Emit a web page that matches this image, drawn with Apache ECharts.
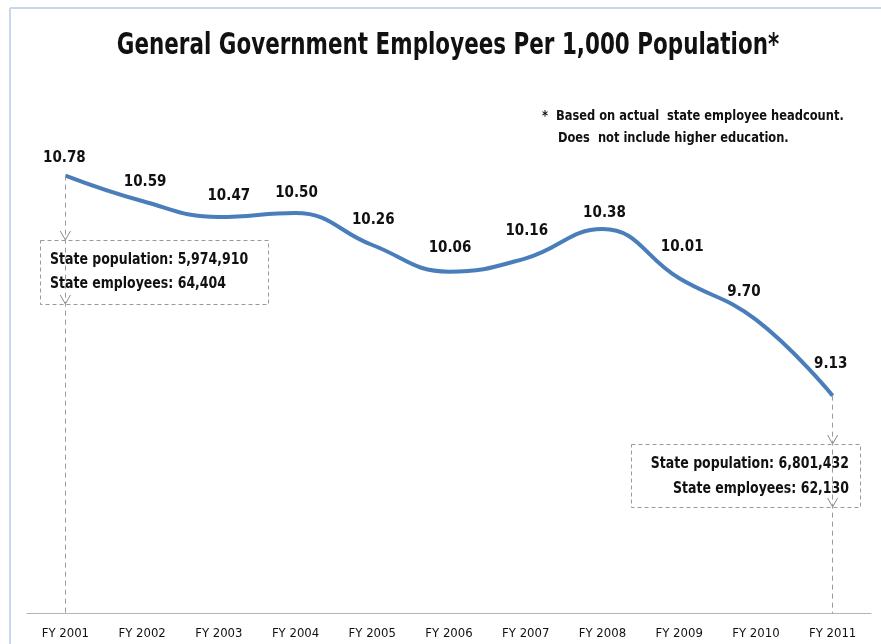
<!DOCTYPE html>
<html>
<head>
<meta charset="utf-8">
<script src="https://cdn.jsdelivr.net/npm/echarts@6/dist/echarts.min.js"></script>
<style>
  html, body { margin: 0; padding: 0; background: #fff; }
  #chart { width: 881px; height: 644px; }
</style>
</head>
<body>
<div id="chart"></div>
<script>
// Fiscal years shown on the category axis
const years = ['FY 2001', 'FY 2002', 'FY 2003', 'FY 2004', 'FY 2005', 'FY 2006',
               'FY 2007', 'FY 2008', 'FY 2009', 'FY 2010', 'FY 2011'];
// Employees per 1,000 population
const perThousand = [10.78, 10.59, 10.47, 10.50, 10.26, 10.06, 10.16, 10.38, 10.01, 9.70, 9.13];
// Value range of the (hidden) y axis
const yRange = [7.5, 12];
// Callout text for the first and last year
const firstYearNote = ['State population: 5,974,910', 'State employees: 64,404'];
const lastYearNote = ['State population: 6,801,432', 'State employees: 62,130'];
const footnote = ['*  Based on actual  state employee headcount.', '    Does  not include higher education.'];
const chartTitle = 'General Government Employees Per 1,000 Population*';

const FONT = '"DejaVu Sans Condensed", "DejaVu Sans", sans-serif';
const chart = echarts.init(document.getElementById('chart'));

// Hand-placed value labels: [dx, dy] shift from the default spot above each point
const labelNudge = [[-1, -7], [3, -8], [10, -10], [1, -9], [1, -14], [1, -13],
                    [1, -17], [2, -5], [3, -21], [-12, -17], [-2, -21]];

const lastIdx = years.length - 1;
const dropLine = (idx) => [
  { coord: [years[idx], perThousand[idx]] },
  { coord: [years[idx], yRange[0]] }
];

const seriesData = perThousand.map((v, i) => ({
  value: v,
  label: { offset: labelNudge[i] }
}));

chart.setOption({
  animation: false,
  backgroundColor: '#ffffff',
  grid: { left: 27, right: 10, top: 13, bottom: 31 },
  xAxis: {
    type: 'category',
    data: years,
    boundaryGap: true,
    axisLine: { lineStyle: { color: '#b5b5b5', width: 1 } },
    axisTick: { show: false },
    axisLabel: { fontFamily: FONT, fontSize: 13, color: '#111', margin: 14 }
  },
  yAxis: {
    type: 'value', min: yRange[0], max: yRange[1],
    show: false, splitLine: { show: false }
  },
  series: [{
    type: 'line',
    data: seriesData,
    smooth: 0.45,
    showSymbol: true,
    symbol: 'circle',
    symbolSize: 2,
    itemStyle: { color: 'rgba(0,0,0,0)', borderWidth: 0 },
    lineStyle: { color: '#4a7ebb', width: 4 },
    label: {
      show: true, position: 'top', distance: 2,
      formatter: (p) => p.value.toFixed(2),
      fontFamily: FONT, fontWeight: 'bold', fontSize: 15, color: '#111'
    },
    markLine: {
      silent: true, symbol: 'none', label: { show: false },
      lineStyle: { type: [5, 4], color: '#9a9a9a', width: 1 },
      data: [dropLine(0), dropLine(lastIdx)]
    }
  }]
});

// Callout boxes, open arrow heads on the drop lines, title and footnote
const xFirst = chart.convertToPixel({ xAxisIndex: 0 }, years[0]);
const xLast = chart.convertToPixel({ xAxisIndex: 0 }, years[lastIdx]);

function arrowHead(x, tipY) {
  return {
    type: 'polyline', silent: true,
    shape: { points: [[x - 5, tipY - 9], [x, tipY], [x + 5, tipY - 9]] },
    style: { stroke: '#8a8a8a', lineWidth: 1, fill: null }
  };
}
function box(x, y, w, h) {
  return {
    type: 'rect', silent: true,
    shape: { x: x, y: y, width: w, height: h },
    style: { fill: '#ffffff', stroke: '#9a9a9a', lineWidth: 1, lineDash: [4, 3] }
  };
}
function narrowText(x, y, text, align, size, squeeze) {
  return {
    type: 'text', silent: true, x: x, y: y, scaleX: squeeze,
    style: { text: text, align: align, verticalAlign: 'middle',
             font: 'bold ' + size + 'px ' + FONT, fill: '#111' }
  };
}

chart.setOption({
  graphic: [
    // page frame
    { type: 'line', silent: true, shape: { x1: 10, y1: 8, x2: 881, y2: 8 },
      style: { stroke: '#c8d8ea', lineWidth: 2 } },
    { type: 'line', silent: true, shape: { x1: 10, y1: 8, x2: 10, y2: 644 },
      style: { stroke: '#c8d8ea', lineWidth: 2 } },
    narrowText(448, 46, chartTitle, 'center', 31, 0.77),
    box(40.5, 240.5, 228, 64),
    narrowText(50, 260, firstYearNote[0], 'left', 16, 0.87),
    narrowText(50, 284, firstYearNote[1], 'left', 16, 0.87),
    arrowHead(xFirst, 240),
    arrowHead(xFirst, 304),
    box(631.5, 444.5, 229, 63),
    narrowText(849, 464, lastYearNote[0], 'right', 16, 0.87),
    narrowText(849, 489, lastYearNote[1], 'right', 16, 0.87),
    arrowHead(xLast, 444),
    arrowHead(xLast, 507),
    narrowText(542, 116, footnote[0], 'left', 14, 0.91),
    narrowText(542, 138, footnote[1], 'left', 14, 0.91)
  ]
});
</script>
</body>
</html>
